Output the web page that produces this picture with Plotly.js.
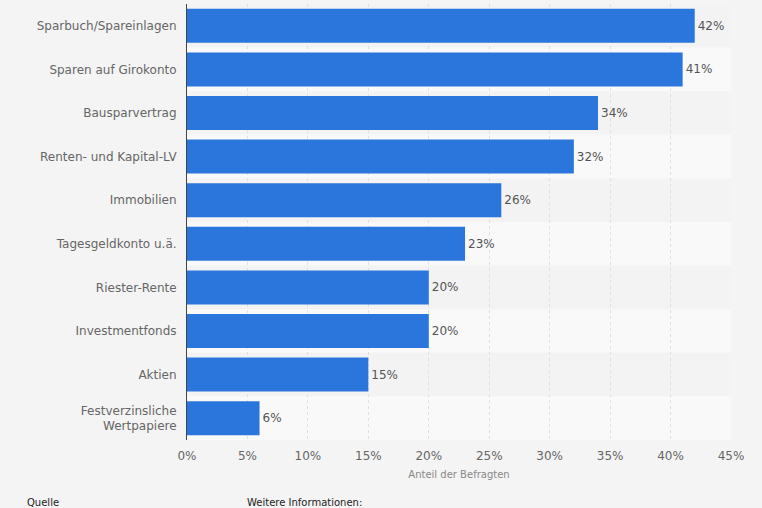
<!DOCTYPE html>
<html>
<head>
<meta charset="utf-8">
<script src="https://cdn.plot.ly/plotly-3.0.1.min.js"></script>
<style>
html,body{margin:0;padding:0;background:#f4f4f4;}
#chart{width:762px;height:508px;}
</style>
</head>
<body>
<div id="chart"></div>
<script>
const categories = [
  "Sparbuch/Spareinlagen",
  "Sparen auf Girokonto",
  "Bausparvertrag",
  "Renten- und Kapital-LV",
  "Immobilien",
  "Tagesgeldkonto u.ä.",
  "Riester-Rente",
  "Investmentfonds",
  "Aktien",
  "Festverzinsliche<br>Wertpapiere"
];
const values = [42, 41, 34, 32, 26, 23, 20, 20, 15, 6];
const xTickVals = [0, 5, 10, 15, 20, 25, 30, 35, 40, 45];
const xTickText = ["0%", "5%", "10%", "15%", "20%", "25%", "30%", "35%", "40%", "45%"];

const font = "DejaVu Sans, sans-serif";

const shapes = categories.map((c, i) => ({
  type: "rect", layer: "below", xref: "paper", yref: "y",
  x0: 0, x1: 1, y0: i - 0.5, y1: i + 0.5,
  fillcolor: i % 2 === 0 ? "#f3f3f3" : "#f9f9f9", line: {width: 0}
}));

const trace = {
  type: "bar", orientation: "h",
  x: values, y: categories.map((c, i) => i),
  marker: {color: "#2a76dd"},
  width: 0.78,
  text: values.map(v => v + "%"),
  textposition: "outside",
  textfont: {family: font, size: 12, color: "#555555"},
  cliponaxis: false,
  hoverinfo: "none"
};

const layout = {
  width: 762, height: 508,
  paper_bgcolor: "#f4f4f4", plot_bgcolor: "#f4f4f4",
  margin: {l: 187, r: 31, t: 4, b: 68},
  showlegend: false,
  font: {family: font},
  shapes: shapes,
  xaxis: {
    range: [0, 45], tickmode: "array", tickvals: xTickVals, ticktext: xTickText,
    showgrid: true, gridcolor: "#e0e0e0", griddash: "dot", gridwidth: 1,
    zeroline: false, showline: false,
    tickfont: {family: font, size: 12, color: "#666666"},
    ticks: "", ticklen: 0, ticklabelstandoff: 7,
    title: {text: "Anteil der Befragten", font: {family: font, size: 10, color: "#888888"}, standoff: 8}
  },
  yaxis: {
    tickmode: "array", tickvals: categories.map((c, i) => i), ticktext: categories,
    range: [categories.length - 0.5, -0.5],
    showgrid: false, zeroline: false,
    showline: true, linecolor: "#444444", linewidth: 1,
    ticks: "", ticklabelstandoff: 7,
    tickfont: {family: font, size: 12, color: "#666666"}
  },
  annotations: [
    {text: "Quelle", xref: "paper", yref: "paper", x: (25-187)/544, y: -68/436, yanchor: "bottom", xanchor: "left",
     showarrow: false, font: {family: font, size: 10, color: "#222222"}, yshift: -2},
    {text: "Weitere Informationen:", xref: "paper", yref: "paper", x: (245-187)/544, y: -68/436, yanchor: "bottom", xanchor: "left",
     showarrow: false, font: {family: font, size: 10, color: "#222222"}, yshift: -2}
  ]
};

Plotly.newPlot("chart", [trace], layout, {staticPlot: true, displayModeBar: false});
</script>
</body>
</html>
